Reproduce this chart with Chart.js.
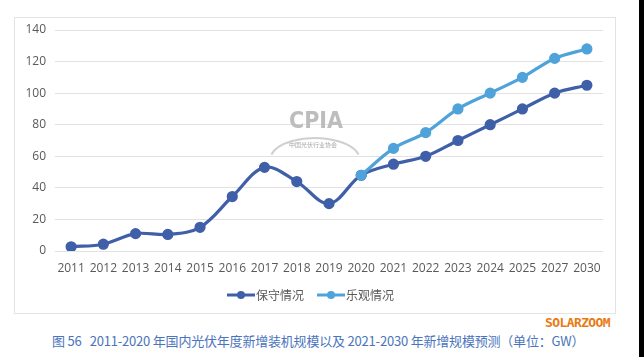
<!DOCTYPE html>
<html>
<head>
<meta charset="utf-8">
<script src="https://cdn.jsdelivr.net/npm/chart.js@4/dist/chart.umd.min.js"></script>
<style>
  html, body { margin:0; padding:0; background:#fff; }
  body { width:644px; height:357px; position:relative; overflow:hidden; font-family:"Noto Sans CJK SC", "Open Sans", sans-serif; }
  #box { position:absolute; left:14px; top:17px; width:602px; height:297px; border:1px solid #e3e3e3; box-sizing:border-box; }
  #wrap { position:absolute; left:0; top:0; width:600px; height:295px; }
  #caption { position:absolute; left:52px; top:331px; font-size:13px; color:#4a74bd; white-space:nowrap; letter-spacing:-0.2px; }
  #brand { position:absolute; left:545px; top:315px; font-family:"DejaVu Sans Mono", monospace; font-weight:bold; font-size:13px; color:#ea7a12; letter-spacing:-0.6px; }
  #edge { position:absolute; left:639px; top:0; width:5px; height:357px; background:#000; }
</style>
</head>
<body>
<div id="box"><div id="wrap"><canvas id="c"></canvas></div></div>
<div id="brand">SOLARZOOM</div>
<div id="caption">图 56&nbsp;&nbsp;&nbsp;2011-2020 年国内光伏年度新增装机规模以及 2021-2030 年新增规模预测（单位：GW）</div>
<div id="edge"></div>
<script>
const categories = ["2011","2012","2013","2014","2015","2016","2017","2018","2019","2020","2021","2022","2023","2024","2025","2027","2030"];
const conservative = [2.7, 4.3, 11, 10.5, 15, 34.5, 53, 44, 30, 48, 55, 60, 70, 80, 90, 100, 105];
const optimistic = [null, null, null, null, null, null, null, null, null, 48, 65, 75, 90, 100, 110, 122, 128];
const seriesNames = ["保守情况", "乐观情况"];
const yTicks = [0, 20, 40, 60, 80, 100, 120, 140];

const darkBlue = "#3f5fa9";
const lightBlue = "#4fa3da";

function legendIcon(color) {
  // image is centred on the legend box; icon drawn offset inside it
  const cv = document.createElement("canvas");
  cv.width = 40; cv.height = 12;
  const g = cv.getContext("2d");
  const s = 10, w = 28;
  g.strokeStyle = color; g.lineWidth = 3;
  g.beginPath(); g.moveTo(s, 6); g.lineTo(s + w, 6); g.stroke();
  g.fillStyle = color;
  g.beginPath(); g.arc(s + w / 2, 6, 4, 0, Math.PI * 2); g.fill();
  return cv;
}

const watermark = {
  id: "watermark",
  beforeDatasetsDraw(chart) {
    const ctx = chart.ctx;
    const cx = 301;
    const cy = 104;
    ctx.save();
    ctx.fillStyle = "#bdbdbd";
    ctx.font = "bold 23px 'DejaVu Sans Condensed', 'Liberation Sans Narrow', sans-serif";
    ctx.textAlign = "center"; ctx.textBaseline = "middle";
    ctx.fillText("CPIA", cx, cy);
    ctx.strokeStyle = "#cfcfcf"; ctx.lineWidth = 2;
    ctx.beginPath();
    ctx.ellipse(cx - 1, cy + 38, 45, 22, 0, Math.PI * 1.08, Math.PI * 1.92);
    ctx.stroke();
    ctx.font = "6px 'Noto Sans CJK SC'";
    ctx.fillStyle = "#a9a9a9";
    ctx.fillText("中国光伏行业协会", cx - 3, cy + 23);
    ctx.restore();
  }
};

new Chart(document.getElementById("c"), {
  type: "line",
  data: {
    labels: categories,
    datasets: [
      { label: seriesNames[0], data: conservative, borderColor: darkBlue, backgroundColor: darkBlue,
        pointBackgroundColor: darkBlue, pointBorderColor: darkBlue, borderWidth: 3.2, pointRadius: 4, tension: 0.35, order: 2 },
      { label: seriesNames[1], data: optimistic, borderColor: lightBlue, backgroundColor: lightBlue,
        pointBackgroundColor: lightBlue, pointBorderColor: lightBlue, borderWidth: 3.2, pointRadius: 4, tension: 0.35, order: 1 }
    ]
  },
  plugins: [watermark],
  options: {
    responsive: true,
    maintainAspectRatio: false,
    animation: false,
    layout: { padding: { left: 0, right: 12, top: 12, bottom: 2 } },
    plugins: {
      tooltip: { enabled: false },
      legend: {
        position: "bottom",
        labels: {
          usePointStyle: true,
          pointStyleWidth: 26,
          boxHeight: 12,
          padding: 10,
          color: "#595959",
          font: { size: 12, family: "'Noto Sans CJK SC', sans-serif" },
          generateLabels(chart) {
            return chart.data.datasets.map((ds, i) => ({
              text: ds.label, pointStyle: legendIcon(ds.borderColor), fillStyle: ds.borderColor,
              strokeStyle: ds.borderColor, lineWidth: 0, datasetIndex: i, hidden: false, fontColor: "#595959"
            }));
          }
        }
      }
    },
    scales: {
      x: {
        offset: true,
        grid: { display: false, drawTicks: false },
        border: { display: false },
        afterFit(axis) { axis.height = 28; },
        ticks: { color: "#595959", font: { size: 12, family: "'Open Sans', sans-serif" }, padding: 10, maxRotation: 0, autoSkip: false }
      },
      y: {
        min: 0, max: 140,
        afterBuildTicks(axis) { axis.ticks = yTicks.map(v => ({ value: v })); },
        afterFit(axis) { axis.width = 40; axis.paddingTop = 4; axis.paddingBottom = 0; },
        grid: { color: "#e2e2e2", lineWidth: 1, drawTicks: false },
        border: { display: false },
        ticks: { color: "#595959", font: { size: 12, family: "'Open Sans', sans-serif" }, padding: 9 }
      }
    }
  }
});
</script>
</body>
</html>
